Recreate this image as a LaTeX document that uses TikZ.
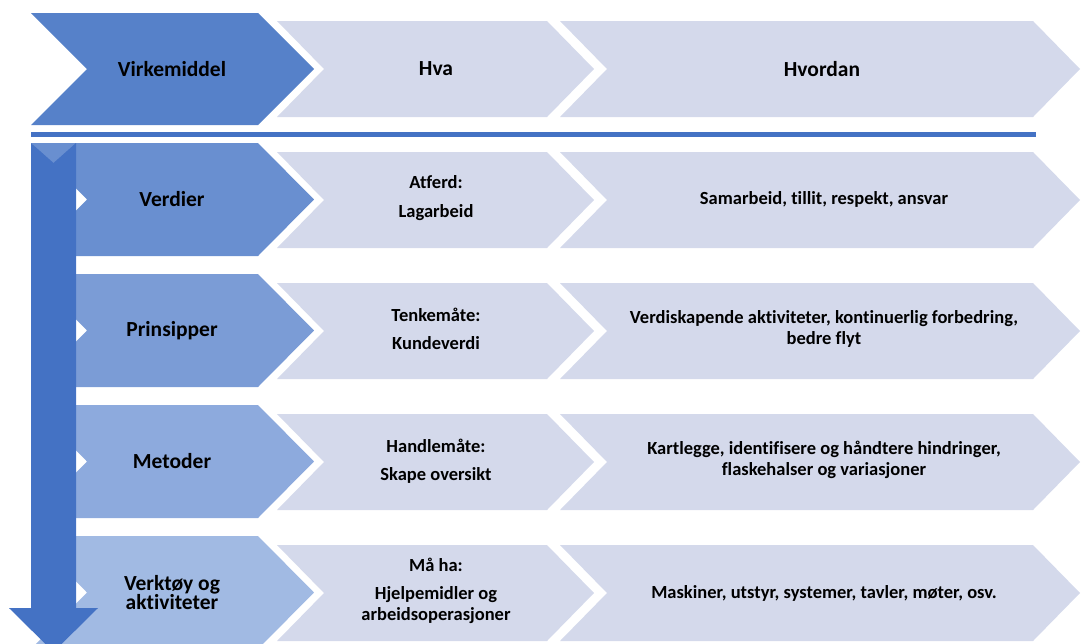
\documentclass[tikz,border=0pt]{standalone}
\usepackage{fontspec}
\setmainfont[Ligatures=NoCommon]{Carlito}
\definecolor{cA}{RGB}{86,129,201}
\definecolor{cB}{RGB}{105,143,208}
\definecolor{cC}{RGB}{123,156,214}
\definecolor{cD}{RGB}{141,170,221}
\definecolor{cE}{RGB}{161,186,227}
\definecolor{cL}{RGB}{212,217,235}
\definecolor{cArrow}{RGB}{68,114,196}
\newcommand\mychev[6]{%
  \fill[#6] (#1,#3) -- (#2,#3) -- ({#2+#5},{(#3+#4)/2}) -- (#2,#4) -- (#1,#4) -- ({#1+#5},{(#3+#4)/2}) -- cycle;}
\begin{document}
\begin{tikzpicture}[x=1pt,y=-1pt,
  lbl/.style={font=\bfseries\fontsize{21.5}{19.5}\selectfont, align=center, text=black, inner sep=0pt},
  txt/.style={font=\bfseries\fontsize{18.5}{21.5}\selectfont, align=center, text=black, inner sep=0pt}]
\useasboundingbox (0,0) rectangle (1081,643);
\clip (0,0) rectangle (1081,643);
% header row
\mychev{31}{258}{13}{125}{56}{cA}
\mychev{277}{547}{21}{117}{47}{cL}
\mychev{560}{1033}{21}{117}{47}{cL}
% separator
\fill[cArrow] (31,131.5) rectangle (1036,136.5);
% rows
\foreach \k/\c in {0/cB,1/cC,2/cD,3/cE}{
  \pgfmathsetmacro\yt{143+131*\k}
  \pgfmathsetmacro\yb{256+131*\k}
  \pgfmathsetmacro\ylt{152+131*\k}
  \pgfmathsetmacro\ylb{248+131*\k}
  \mychev{31}{258}{\yt}{\yb}{56}{\c}
  \mychev{277}{547}{\ylt}{\ylb}{47}{cL}
  \mychev{560}{1033}{\ylt}{\ylb}{47}{cL}
}
% down arrow
\fill[cArrow] (31,143) -- (53.5,163) -- (76,143) -- (76,608) -- (98,608) -- (53.5,652) -- (9,608) -- (31,608) -- cycle;
% texts
\node[lbl] (h1) at (172,69) {Virkemiddel};
\node[lbl] (h2) at (436,69) {Hva};
\node[lbl] (h3) at (822,69) {Hvordan};
\node[lbl] (r1) at (172,199.5) {Verdier};
\node[lbl] (r2) at (172,330.5) {Prinsipper};
\node[lbl] (r3) at (172,461.5) {Metoder};
\node[lbl] (r4) at (172,592.5) {Verktøy og\\aktiviteter};
\node[txt] (m1) at (436,198) {Atferd:\\[7pt]Lagarbeid};
\node[txt] (m2) at (436,329) {Tenkemåte:\\[7pt]Kundeverdi};
\node[txt] (m3) at (436,461) {Handlemåte:\\[7pt]Skape oversikt};
\node[txt] (m4) at (436,591) {Må ha:\\[6pt]Hjelpemidler og\\arbeidsoperasjoner};
\node[txt] (v1) at (824,199) {Samarbeid, tillit, respekt, ansvar};
\node[txt] (v2) at (824,329) {Verdiskapende aktiviteter, kontinuerlig forbedring,\\bedre flyt};
\node[txt] (v3) at (824,460) {Kartlegge, identifisere og håndtere hindringer,\\flaskehalser og variasjoner};
\node[txt] (v4) at (824,593) {Maskiner, utstyr, systemer, tavler, møter, osv.};
\end{tikzpicture}
\end{document}
